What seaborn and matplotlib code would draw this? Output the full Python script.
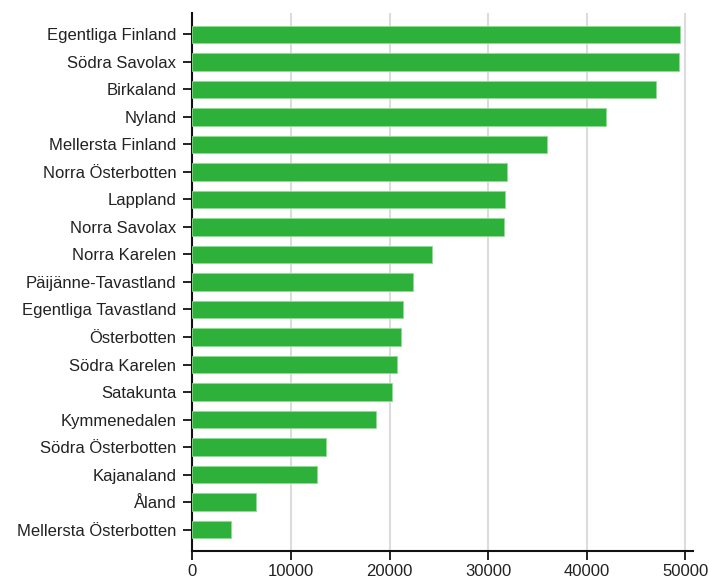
import pandas as pd
import matplotlib
matplotlib.use("Agg")
import matplotlib.pyplot as plt
import seaborn as sns

# Regions and values
regions = [
    "Egentliga Finland", "Södra Savolax", "Birkaland", "Nyland",
    "Mellersta Finland", "Norra Österbotten", "Lappland", "Norra Savolax",
    "Norra Karelen", "Päijänne-Tavastland", "Egentliga Tavastland",
    "Österbotten", "Södra Karelen", "Satakunta", "Kymmenedalen",
    "Södra Österbotten", "Kajanaland", "Åland", "Mellersta Österbotten",
]
values = [
    49480, 49310, 47010, 41990,
    35970, 31890, 31750, 31580,
    24290, 22330, 21350,
    21180, 20710, 20240, 18610,
    13550, 12600, 6420, 3950,
]
x_ticks = [0, 10000, 20000, 30000, 40000, 50000]

bar_color = "#2db13a"
edge_color = "#8fdc8f"
grid_color = "#dcdcdc"


def main():
    df = pd.DataFrame({"region": regions, "value": values})

    sns.set_style("white")
    plt.rcParams["font.family"] = ["Liberation Sans", "DejaVu Sans"]

    fig = plt.figure(figsize=(7.09, 5.83), dpi=100)
    ax = fig.add_axes([0.2712, 0.0554, 0.7058, 0.9223])

    sns.barplot(data=df, x="value", y="region", orient="h", color=bar_color,
                width=0.64, saturation=1, edgecolor=edge_color, linewidth=0.6,
                ax=ax, zorder=3)

    ax.set_xlim(0, 50730)
    ax.set_ylim(18.77, -0.78)
    ax.set_xticks(x_ticks)
    ax.set_xticklabels([str(t) for t in x_ticks])
    ax.set_xlabel("")
    ax.set_ylabel("")

    ax.grid(axis="x", color=grid_color, linewidth=1.5, zorder=0)
    ax.grid(axis="y", visible=False)
    ax.set_axisbelow(True)

    for side in ["top", "right"]:
        ax.spines[side].set_visible(False)
    for side in ["left", "bottom"]:
        ax.spines[side].set_color("#111111")
        ax.spines[side].set_linewidth(1.5)

    ax.tick_params(axis="both", which="major", length=6.5, width=1.3,
                   color="#111111", labelsize=12, labelcolor="#222222",
                   direction="out", left=True, bottom=True)
    ax.tick_params(axis="y", pad=5)
    ax.tick_params(axis="x", pad=3)

    fig.savefig("out.png", dpi=100)


if __name__ == "__main__":
    main()
